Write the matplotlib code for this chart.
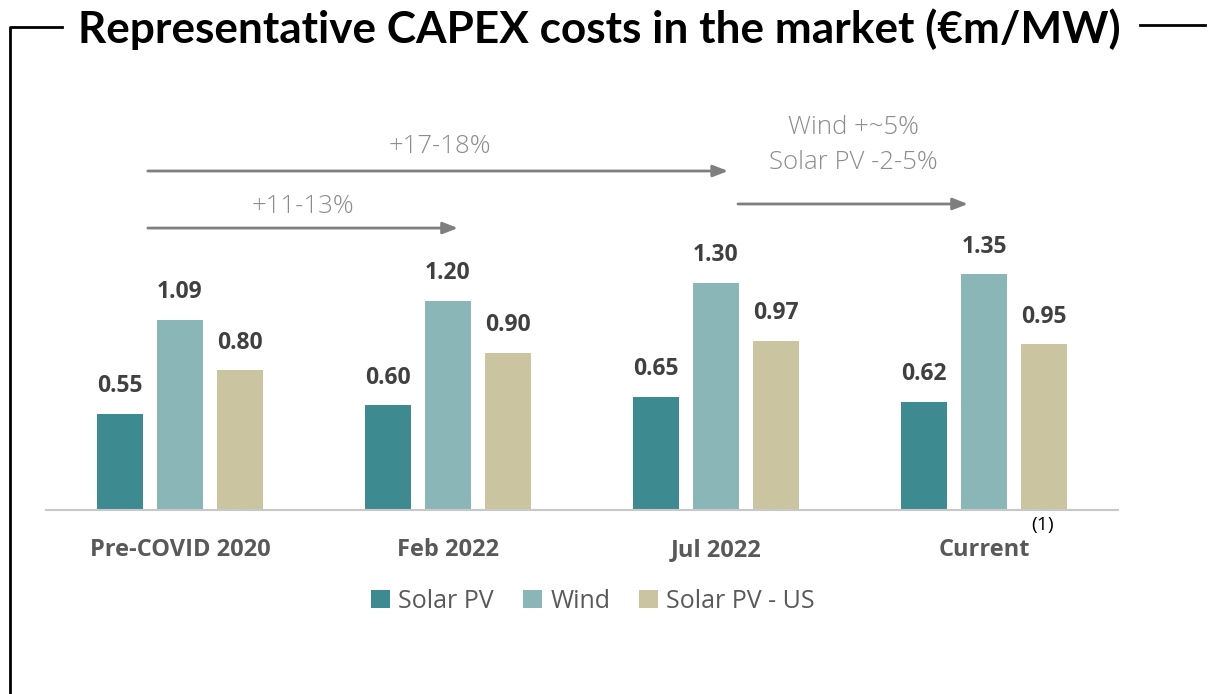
#
# Grouped bar chart of representative CAPEX costs
#
import numpy as np
import matplotlib.pyplot as plt
from matplotlib.lines import Line2D
from matplotlib.patches import Patch

# Data
periods = ['Pre-COVID 2020', 'Feb 2022', 'Jul 2022', 'Current']
solar_pv = [0.55, 0.60, 0.65, 0.62]
wind = [1.09, 1.20, 1.30, 1.35]
solar_pv_us = [0.80, 0.90, 0.97, 0.95]
series_names = ['Solar PV', 'Wind', 'Solar PV - US']
colors = ['#3e8a91', '#8ab6b7', '#cbc4a0']

W, H = 1213, 694
fig = plt.figure(figsize=(W / 100, H / 100), dpi=100)

# Axes placed in pixel terms: baseline at y=510, x-range 46..1118
ax = fig.add_axes([46 / W, 1 - 510 / H, (1118 - 46) / W, 410 / H])
ax.set_xlim(-0.5, 3.5)
ax.set_ylim(0, 2.35)

x = np.arange(len(periods))
width = 0.172
pitch = 0.224
for k, (vals, col) in enumerate(zip([solar_pv, wind, solar_pv_us], colors)):
    xs = x + (k - 1) * pitch
    ax.bar(xs, vals, width=width, color=col, zorder=2)
    for xi, v in zip(xs, vals):
        ax.text(xi, v + 0.09, f'{v:.2f}', ha='center', va='bottom',
                fontsize=16.5, fontweight='bold', color='#404040',
                family='Open Sans')

# Baseline
for s in ['top', 'right', 'left']:
    ax.spines[s].set_visible(False)
ax.spines['bottom'].set_color('#c8c8c8')
ax.spines['bottom'].set_linestyle((0, (1, 0.5)))
ax.spines['bottom'].set_linewidth(1.5)
ax.set_yticks([])
ax.set_xticks(x)
ax.set_xticklabels(periods, fontsize=17, fontweight='bold', color='#595959',
                   family='Open Sans')
ax.tick_params(axis='x', length=0, pad=20)

# Footnote marker on the last category
ax.text(3.22, -0.085, '(1)', ha='center', va='center', fontsize=14,
        color='black', family='Open Sans')

# Change arrows
arrow_col = '#7f7f7f'
def arrow(x0, x1, y):
    ax.annotate('', xy=(x1, y), xytext=(x0, y),
                arrowprops=dict(arrowstyle='-|>,head_length=0.9,head_width=0.35',
                                color=arrow_col, lw=2, shrinkA=0, shrinkB=0),
                annotation_clip=False)

arrow(-0.12, 2.045, 1.943)
arrow(-0.12, 1.037, 1.616)
arrow(2.082, 2.94, 1.754)
txt = dict(ha='center', va='center', fontsize=18.5, color='#8c8c8c',
           family='Open Sans', fontweight='light')
ax.text((440 - 180) / 268, (510 - 146) / 174.5, '+17-18%', **txt)
ax.text((303 - 180) / 268, (510 - 206) / 174.5, '+11-13%', **txt)
ax.text((853 - 180) / 268, (510 - 127) / 174.5, 'Wind +~5%', **txt)
ax.text((853 - 180) / 268, (510 - 162) / 174.5, 'Solar PV -2-5%', **txt)

# Legend
handles = [Patch(facecolor=c, edgecolor='none') for c in colors]
fig.legend(handles, series_names, loc='center', bbox_to_anchor=(593 / W, 1 - 601 / H),
           ncol=3, frameon=False, handlelength=0.75, handleheight=0.75,
           handletextpad=0.35, columnspacing=1.15,
           prop=dict(family='Open Sans', size=18), labelcolor='#595959')

# Title with frame lines
fig.text(599 / W, 1 - 29 / H, 'Representative CAPEX costs in the market (€m/MW)',
         ha='center', va='center', fontsize=31.8, fontweight='bold',
         family='Lato', color='black')
fig.add_artist(Line2D([10 / W, 10 / W, 62 / W], [0, 1 - 27 / H, 1 - 27 / H],
                      transform=fig.transFigure, color='black', lw=2))
fig.add_artist(Line2D([1140 / W, 1205 / W], [1 - 25 / H, 1 - 25 / H],
                      transform=fig.transFigure, color='black', lw=2))

fig.savefig('out.png', dpi=100)
